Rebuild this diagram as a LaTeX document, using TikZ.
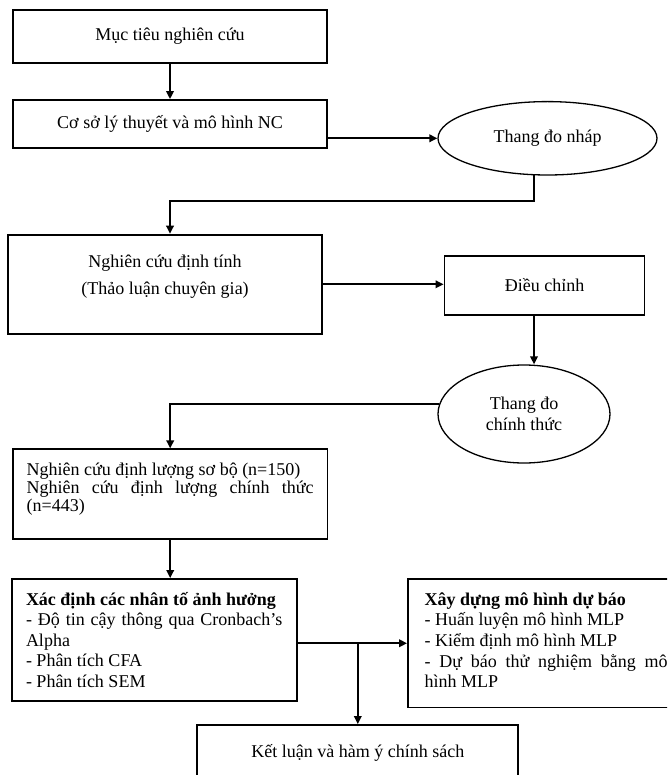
\documentclass[tikz,border=0pt]{standalone}
\usepackage{fontspec}
\setmainfont{Liberation Serif}
\usetikzlibrary{positioning,shapes.geometric,arrows.meta}
\tikzset{
box/.style={
  draw, rectangle,
  line width=1.9pt,
  inner sep=0pt,
  font=\fontsize{18}{20.5}\selectfont
  },
oval/.style={
  draw, ellipse,
  line width=1.3pt,
  inner sep=0pt,
  align=center,
  font=\fontsize{18}{21.6}\selectfont
  },
arr/.style={-{Triangle[length=8pt,width=7.5pt]}, line width=1.9pt},
}
\hyphenpenalty=10000
\exhyphenpenalty=10000
\sloppy

\begin{document}
\begin{tikzpicture}[x=1pt,y=-1pt]
    \useasboundingbox (0,0) rectangle (667,775);
    \clip (0,0) rectangle (667,775);

    \node [box, minimum width=314.7pt, minimum height=52.7pt] (muctieu) at (170,36.3) {Mục tiêu nghiên cứu};
    \node [box, minimum width=314.7pt, minimum height=48.3pt] (coso) at (170,124.2) {Cơ sở lý thuyết và mô hình NC};
    \node [oval, minimum width=219pt, minimum height=73.4pt] (thangnhap) at (547.5,138.3) {Thang đo nháp};

    \node [box] (dinhtinh) at (165,284.3)
        {\parbox[c][99.3pt][t]{313.4pt}{\centering\fontsize{18}{26.7}\selectfont
        \rule{0pt}{33.3pt}Nghiên cứu định tính\\(Thảo luận chuyên gia)}};
    \node [box, minimum width=200pt, minimum height=59pt] (dieuchinh) at (544.5,285.5) {Điều chỉnh};
    \node [oval, minimum width=172pt, minimum height=98pt] (thangchinh) at (524,414) {Thang đo\\chính thức};

    \node [box, inner xsep=13.75pt] (dinhluong) at (170.2,494.3)
        {\parbox[c][90pt][t]{287pt}{\fontsize{18}{17.8}\selectfont\lineskiplimit=-20pt
        \rule{0pt}{26.5pt}Nghiên cứu định lượng sơ bộ (n=150)\par
        Nghiên cứu định lượng chính thức (n=443)}};

    \node [box, inner xsep=14.3pt] (nhanto) at (154.2,640)
        {\parbox[c][122pt][t]{256.4pt}{\fontsize{18}{20.5}\selectfont
        \rule{0pt}{26pt}\textbf{Xác định các nhân tố ảnh hưởng}\par
        - Độ tin cậy thông qua Cronbach’s Alpha\par
        - Phân tích CFA\par
        - Phân tích SEM}};
    \node [box, inner xsep=16.7pt] (dubao) at (546.2,643.25)
        {\parbox[c][128.5pt][t]{243pt}{\fontsize{18}{20.7}\selectfont
        \rule{0pt}{26pt}\textbf{Xây dựng mô hình dự báo}\par
        - Huấn luyện mô hình MLP\par
        - Kiểm định mô hình MLP\par
        - Dự báo thử nghiệm bằng mô\linebreak hình MLP}};
    \node [box, minimum width=321pt, minimum height=56.6pt] (ketluan) at (357.8,753.3) {Kết luận và hàm ý chính sách};

    % connectors
    \coordinate (re1) at (170,201);
    \draw [arr] (muctieu) -- (coso);
    \draw [arr] (thangnhap.west -| coso.east) -- (thangnhap.west);
    \draw [arr] (thangnhap.250) |- (re1) -- (re1 |- dinhtinh.north);
    \draw [arr] (dinhtinh.east) -- (dinhtinh.east -| dieuchinh.west);
    \draw [arr] (dieuchinh.south -| thangnhap.250) -- (thangchinh.north -| thangnhap.250);
    \draw [arr] (thangchinh.173) -| (dinhluong.north);
    \draw [arr] (dinhluong.south) -- (dinhluong.south |- nhanto.north);
    \draw [arr] (dubao.west -| nhanto.east) -- (dubao.west);
    \draw [arr] (ketluan.north |- dubao.west) -- (ketluan.north);
\end{tikzpicture}
\end{document}
